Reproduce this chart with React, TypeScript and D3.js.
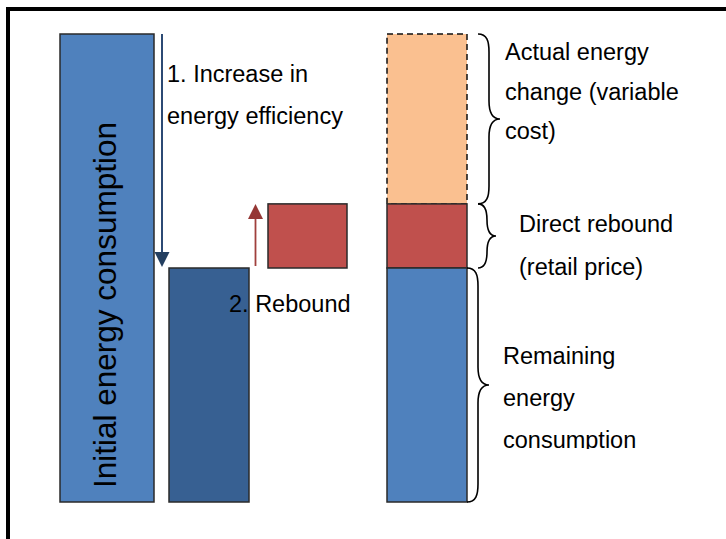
import { useEffect, useRef } from 'react';
import * as d3 from 'd3';

// energy units, initial consumption = 100
const stages = ['initial', 'afterEfficiency', 'rebound', 'decomposition'];
const initialConsumption = 100;
const remainingConsumption = 50;
const directRebound = 13.7;

const topLabels = ['1. Increase in', 'energy efficiency'];
const reboundLabel = '2. Rebound';
const actualLabel = ['Actual energy', 'change (variable', 'cost)'];
const reboundRightLabel = ['Direct rebound', '(retail price)'];
const remainingLabel = ['Remaining', 'energy', 'consumption'];
const verticalLabel = 'Initial energy consumption';

const FONT = '"Liberation Sans", Arial, sans-serif';

function bracePath(x0: number, y0: number, y1: number, w: number) {
    const xm = x0 + w / 2;
    const mid = (y0 + y1) / 2;
    const r = Math.min(18, (y1 - y0) / 4);
    return `M${x0},${y0} C${xm - 2},${y0} ${xm},${y0 + r * 0.4} ${xm},${y0 + r} L${xm},${mid - r} ` +
        `C${xm},${mid - r * 0.4} ${xm + 3},${mid} ${x0 + w},${mid} ` +
        `C${xm + 3},${mid} ${xm},${mid + r * 0.4} ${xm},${mid + r} L${xm},${y1 - r} ` +
        `C${xm},${y1 - r * 0.4} ${xm - 2},${y1} ${x0},${y1}`;
}

export default function App() {
    const svgRef = useRef<SVGSVGElement>(null);
    const width = 726;
    const height = 539;

    useEffect(() => {
        if (!svgRef.current) return;
        const svg = d3.select(svgRef.current);
        svg.selectAll('*').remove();

        const y = d3.scaleLinear().domain([0, initialConsumption]).range([502, 34]);
        const xLeft = d3.scaleOrdinal<string, number>().domain(stages).range([60, 169, 268, 387]);
        const barW = d3.scaleOrdinal<string, number>().domain(stages).range([94, 80, 79, 80]);

        // frame
        svg.append('rect')
            .attr('x', 8).attr('y', 9).attr('width', 800).attr('height', 600)
            .attr('fill', 'white').attr('stroke', 'black').attr('stroke-width', 4);

        const defs = svg.append('defs');
        defs.append('clipPath').attr('id', 'txtclip')
            .append('rect').attr('x', 0).attr('y', 0).attr('width', width).attr('height', 449);

        const bar = (stage: string, lo: number, hi: number, fill: string, dashed = false) =>
            svg.append('rect')
                .attr('x', xLeft(stage))
                .attr('y', y(hi))
                .attr('width', barW(stage))
                .attr('height', y(lo) - y(hi))
                .attr('fill', fill)
                .attr('stroke', dashed ? '#111' : '#2a2a2a')
                .attr('stroke-width', 1.5)
                .attr('stroke-dasharray', dashed ? '6,4' : null);

        bar('initial', 0, initialConsumption, '#4f81bd');
        bar('afterEfficiency', 0, remainingConsumption, '#376092');
        bar('rebound', remainingConsumption, remainingConsumption + directRebound, '#c0504d');
        bar('decomposition', remainingConsumption + directRebound, initialConsumption, '#fac090', true);
        bar('decomposition', remainingConsumption, remainingConsumption + directRebound, '#c0504d');
        bar('decomposition', 0, remainingConsumption, '#4f81bd');

        // efficiency arrow
        const ax = 162;
        svg.append('line')
            .attr('x1', ax).attr('x2', ax)
            .attr('y1', y(initialConsumption)).attr('y2', y(remainingConsumption) - 14)
            .attr('stroke', '#2c4a74').attr('stroke-width', 2);
        svg.append('path')
            .attr('d', `M${ax - 7.5},${y(remainingConsumption) - 16} L${ax + 7.5},${y(remainingConsumption) - 16} L${ax},${y(remainingConsumption) - 1} Z`)
            .attr('fill', '#243f60');

        // rebound arrow
        const rx = 255.5;
        const rTop = y(remainingConsumption + directRebound);
        svg.append('line')
            .attr('x1', rx).attr('x2', rx)
            .attr('y1', y(remainingConsumption) - 2).attr('y2', rTop + 12)
            .attr('stroke', '#a0403d').attr('stroke-width', 1.8);
        svg.append('path')
            .attr('d', `M${rx - 7.5},${rTop + 15} L${rx + 7.5},${rTop + 15} L${rx},${rTop} Z`)
            .attr('fill', '#953735');

        // braces
        const braces = [
            { x: 478, lo: remainingConsumption + directRebound, hi: initialConsumption, w: 22 },
            { x: 478, lo: remainingConsumption, hi: remainingConsumption + directRebound, w: 18 },
            { x: 467, lo: 0, hi: remainingConsumption, w: 22 },
        ];
        svg.selectAll('path.brace')
            .data(braces)
            .enter()
            .append('path')
            .attr('class', 'brace')
            .attr('d', d => bracePath(d.x, y(d.hi), y(d.lo), d.w))
            .attr('fill', 'none')
            .attr('stroke', 'black')
            .attr('stroke-width', 1.6);

        const textBlock = (lines: string[], x: number, y0: number, dy: number, clip = false) => {
            const g = svg.append('g').attr('clip-path', clip ? 'url(#txtclip)' : null);
            g.selectAll('text')
                .data(lines)
                .enter()
                .append('text')
                .attr('x', x)
                .attr('y', (_, i) => y0 + i * dy)
                .attr('font-family', FONT)
                .attr('font-size', 23.5)
                .attr('fill', 'black')
                .text(d => d);
        };

        textBlock(topLabels, 167, 82, 42);
        textBlock([reboundLabel], 229, 312, 0);
        textBlock(actualLabel, 505, 60, 39.5);
        textBlock(reboundRightLabel, 519, 232, 43);
        textBlock(remainingLabel, 503, 364, 42, true);

        svg.append('text')
            .attr('transform', 'translate(116,488) rotate(-90)')
            .attr('font-family', FONT)
            .attr('font-size', 31.5)
            .attr('fill', 'black')
            .text(verticalLabel);
    }, []);

    return (
        <svg
            ref={svgRef}
            width={width}
            height={height}
            viewBox={`0 0 ${width} ${height}`}
            style={{ position: 'absolute', left: 0, top: 0, background: 'white' }}
        />
    );
}
